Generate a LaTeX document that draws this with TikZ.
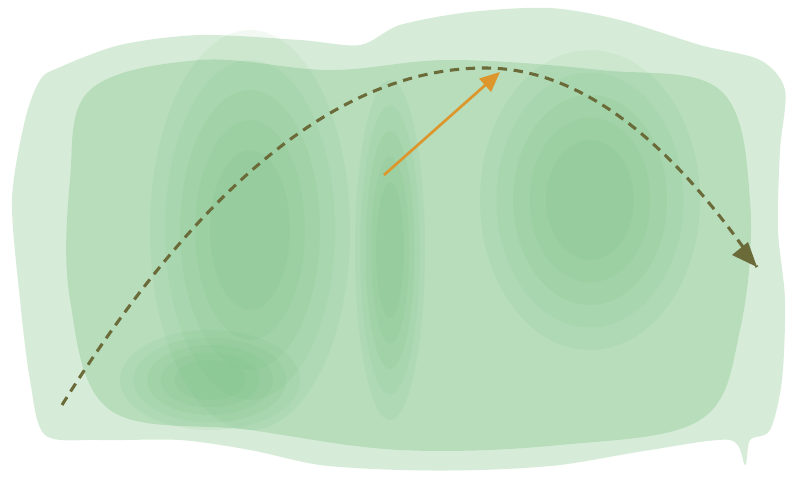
\documentclass[tikz,border=0pt]{standalone}
\usetikzlibrary{arrows.meta}
\definecolor{washlight}{HTML}{D3EBD4}
\definecolor{washmid}{HTML}{98D0A0}
\definecolor{washdark}{HTML}{5DB46E}
\definecolor{olivepath}{HTML}{6B6B3A}
\definecolor{orangearrow}{HTML}{DC962C}
\tikzset{
  soft/.style={fill=washdark, opacity=0.08},
  trajectory/.style={olivepath, line width=2.3pt, dash pattern=on 7pt off 5pt},
  vector/.style={orangearrow, line width=2pt, -{Triangle[length=15pt,width=13pt]}}
}
\begin{document}
\begin{tikzpicture}[x=0.75pt,y=-0.75pt]
\useasboundingbox (0,0) rectangle (795,488);
\fill[white] (0,0) rectangle (795,488);
% watercolor wash
\fill[washlight, opacity=0.9] plot[smooth cycle, tension=0.5] coordinates {
 (58,68) (120,45) (200,35) (300,40) (360,45) (400,25) (470,12) (550,8) (620,20)
 (700,45) (760,60) (785,90) (780,150) (778,230) (785,300) (782,380) (770,430)
 (750,440) (745,465) (730,440) (650,450) (560,465) (480,470) (400,470) (320,465)
 (250,450) (180,440) (100,440) (45,435) (30,380) (20,300) (12,200) (25,120) (40,80)};
\fill[washmid, opacity=0.5] plot[smooth cycle, tension=0.6] coordinates {
 (90,90) (200,60) (330,70) (450,60) (600,70) (720,90) (750,200) (740,330)
 (700,420) (560,445) (400,450) (250,430) (110,410) (70,300) (70,180)};
% darker vertical bands
\foreach \s in {1,0.85,0.7,0.55,0.4}{
  \fill[soft] (250,230) ellipse ({\s*100} and {\s*200});
  \fill[soft] (390,250) ellipse ({\s*35} and {\s*170});
  \fill[soft] (590,200) ellipse ({\s*110} and {\s*150});
  \fill[soft] (210,380) ellipse ({\s*90} and {\s*50});
}
% trajectory
\coordinate (start) at (62,405);
\coordinate (peak) at (485,68);
\coordinate (land) at (757,267);
\draw[trajectory] (start) .. controls (203,180) and (344,68) .. (peak)
  .. controls (576,68) and (666,134) .. (land);
\fill[olivepath] (land) -- ++(-25,-12) -- ++(16,-13) -- cycle;
% velocity vector
\coordinate (vbase) at (384,175);
\coordinate (vtip) at (500,72);
\draw[vector] (vbase) -- (vtip);
\end{tikzpicture}
\end{document}
